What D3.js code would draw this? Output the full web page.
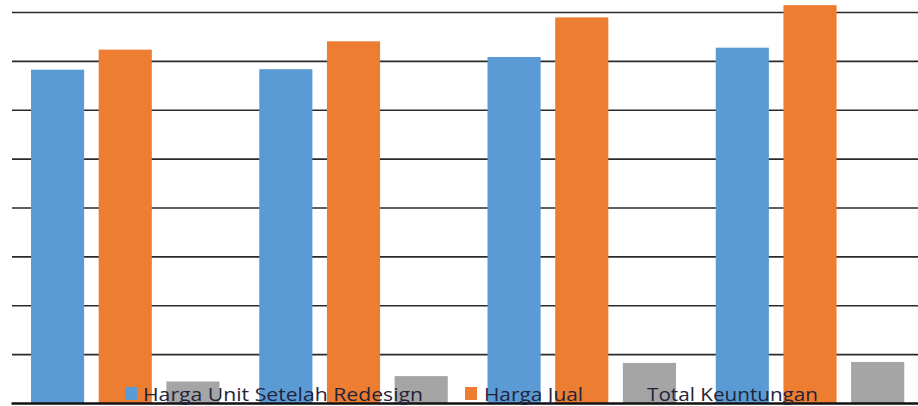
<!DOCTYPE html>
<html>
<head>
<meta charset="utf-8">
<script src="https://cdn.jsdelivr.net/npm/d3@7/dist/d3.min.js"></script>
<style>
  html, body { margin: 0; padding: 0; background: #fff; }
  svg { display: block; }
</style>
</head>
<body>
<svg id="chart" width="918" height="406"></svg>
<script>
// ---- data ----
const categories = ["1", "2", "3", "4"];
const seriesNames = ["Harga Unit Setelah Redesign", "Harga Jual", "Total Keuntungan"];
const hargaUnit = [6.82, 6.83, 7.08, 7.27];
const hargaJual = [7.23, 7.40, 7.89, 8.14];
const totalKeuntungan = [0.44, 0.55, 0.82, 0.84];
const yTicks = [0, 1, 2, 3, 4, 5, 6, 7, 8];
const colors = ["#5B9BD5", "#ED7D31", "#A5A5A5"];

const series = [hargaUnit, hargaJual, totalKeuntungan];

const svg = d3.select("#chart");

const y = d3.scaleLinear().domain([0, 8]).range([403, 12]);
const x0 = d3.scaleBand().domain(categories).range([11, 924]).padding(0);
const x1 = d3.scaleBand().domain(d3.range(series.length))
  .range([20, 208.5]).paddingInner(0.215).paddingOuter(0);

// gridlines
svg.append("g")
  .attr("transform", "translate(12,0)")
  .call(d3.axisLeft(y).tickValues(yTicks.slice(1)).tickSize(-920).tickFormat(""))
  .call(g => g.select(".domain").remove())
  .call(g => g.selectAll("line").attr("stroke", "#2a2a2a").attr("stroke-width", 1.6));

// bars
const groups = svg.append("g").selectAll("g")
  .data(categories)
  .join("g")
  .attr("transform", d => `translate(${x0(d)},0)`);

groups.selectAll("rect")
  .data((d, i) => series.map((s, k) => ({ k, v: s[i] })))
  .join("rect")
  .attr("x", d => x1(d.k))
  .attr("width", x1.bandwidth())
  .attr("y", d => y(d.v))
  .attr("height", d => y(0) - y(d.v))
  .attr("fill", d => colors[d.k]);

// baseline axis
svg.append("g")
  .attr("transform", `translate(0,${y(0)})`)
  .call(d3.axisBottom(x0).tickSize(0).tickFormat(""))
  .call(g => g.select(".domain").attr("stroke", "#111").attr("stroke-width", 2.6));

// legend
const legendItems = [
  { sx: 125, tx: 143, tw: 280 },
  { sx: 465, tx: 484, tw: 99 },
  { sx: 627, tx: 647, tw: 171 }
];
const legend = svg.append("g");
legendItems.forEach((it, i) => {
  legend.append("rect")
    .attr("x", it.sx).attr("y", 387)
    .attr("width", 12).attr("height", 13)
    .attr("fill", colors[i]);
  legend.append("text")
    .attr("x", it.tx).attr("y", 401)
    .attr("font-family", "Open Sans, Lato, sans-serif")
    .attr("font-size", 19)
    .attr("fill", "#23233a")
    .attr("textLength", it.tw)
    .attr("lengthAdjust", "spacingAndGlyphs")
    .text(seriesNames[i]);
});
</script>
</body>
</html>
